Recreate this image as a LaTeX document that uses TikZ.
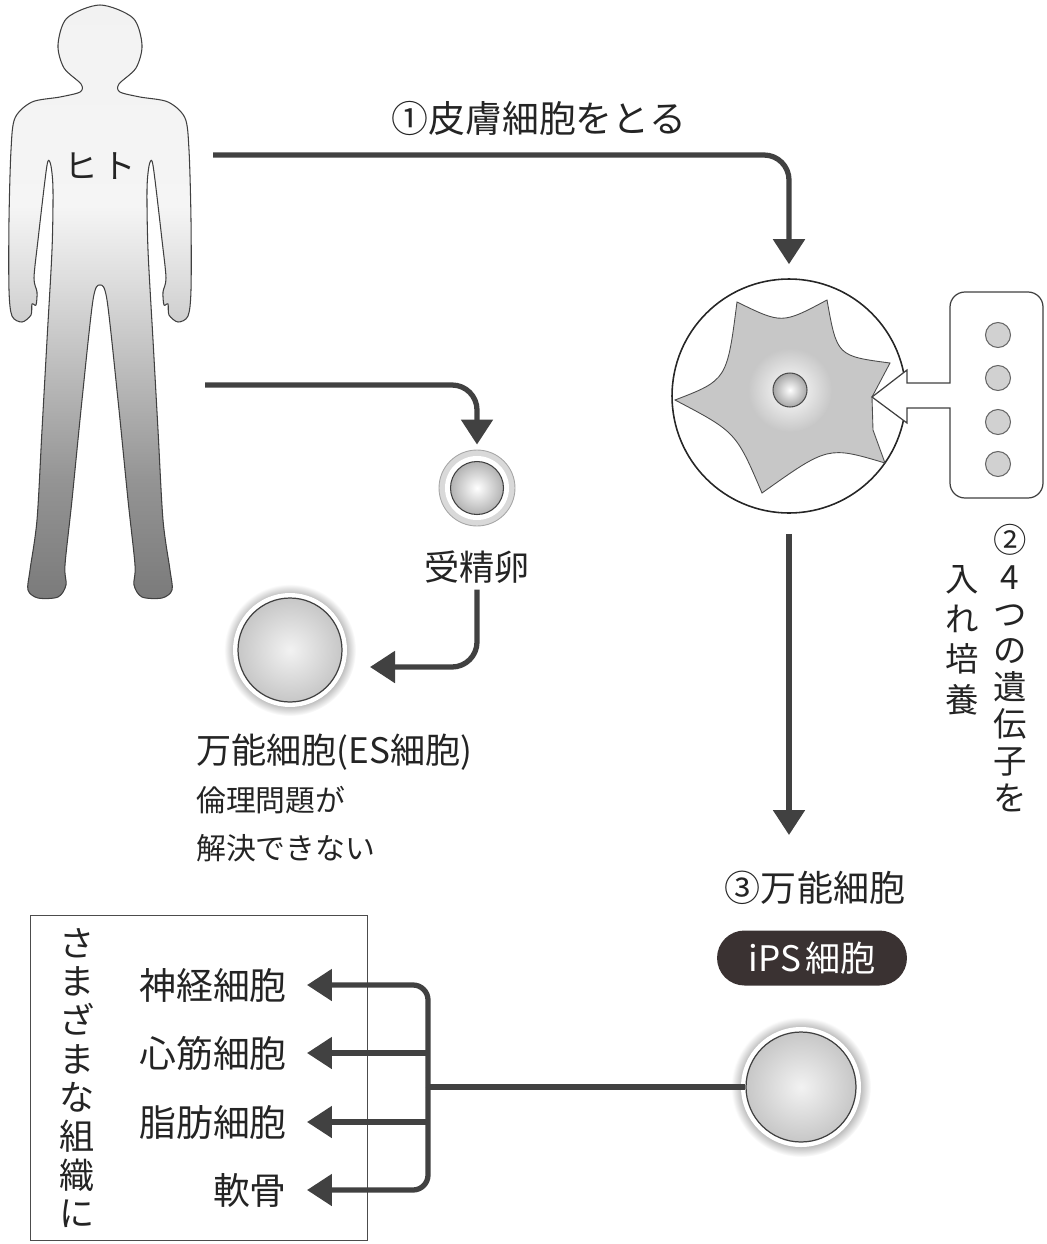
\documentclass[tikz,border=0pt]{standalone}
\usepackage{fontspec}
\setmainfont{Noto Sans CJK JP}
\usetikzlibrary{arrows.meta}
\definecolor{ink}{HTML}{414141}
\definecolor{pill}{HTML}{3A3232}
\definecolor{txt}{HTML}{242424}
\pgfdeclareverticalshading{bodyfade}{100bp}{color(0bp)=(black!52); color(25bp)=(black!52); color(35bp)=(black!42); color(45bp)=(black!25); color(52bp)=(black!13); color(58bp)=(black!4); color(75bp)=(black!5); color(100bp)=(black!5)}
\pgfdeclareradialshading{glow}{\pgfpoint{0bp}{0bp}}{color(0bp)=(black!35); color(20bp)=(black!35); color(25bp)=(white); color(50bp)=(white)}
\tikzset{
  flow/.style={draw=ink, line width=3pt, -{Triangle[width=0.62cm,length=0.5cm]}},
  link/.style={draw=ink, line width=3pt},
  cell/.style={circle, draw=black!75, line width=0.7pt, inner color=black!5, outer color=black!22},
  gene/.style={circle, draw=black!60, line width=0.6pt, fill=black!18, minimum size=0.5cm},
  big/.style={text=txt, font=\fontsize{21}{24}\selectfont},
  mid/.style={text=txt, font=\fontsize{19}{24}\selectfont},
}

\begin{document}
\begin{tikzpicture}[x=0.02cm, y=-0.02cm]
        % \draw [help lines, step=50] (0,0) grid (1047,1244);
        \useasboundingbox (0,0) rectangle (1047,1244);

        % the person
        \shadedraw [shading=bodyfade, draw=black!75, line width=0.6pt]
            plot [smooth cycle, tension=0.5] coordinates {
            (100,285) (93,300) (82,400) (72,500) (65,565) (66,585) (58,597) (38,598) (28,590) (30,570)
            (37,520) (42,430) (47,340) (52,250) (53,190) (51,166) (48,161) (45,180) (38,240) (34,278)
            (37,292) (36,305) (32,304) (31,315) (22,322) (12,316) (9,290) (9,220) (11,150) (15,118)
            (32,102) (60,97) (80,92) (81,84) (64,68) (58,45) (67,18) (100,5)
            (133,18) (142,45) (136,68) (119,84) (120,92) (140,97) (168,102) (185,118) (189,150) (191,220)
            (191,290) (188,316) (178,322) (169,315) (168,304) (164,305) (163,292) (166,278) (162,240) (155,180)
            (152,161) (149,166) (147,190) (148,250) (153,340) (158,430) (163,520) (170,570) (172,590) (162,598)
            (142,597) (134,585) (135,565) (128,500) (118,400) (107,300)};
        \path node (hito) [text=txt, font=\fontsize{19}{20}\selectfont] at (100,166) {ヒ\hspace{0.15em}ト};
        \coordinate (skin) at (213,155);
        \coordinate (womb) at (205,385);

        % skin cell with the four genes
        \path node (cell) [circle, draw=black!85, line width=0.9pt, minimum size=4.68cm] at (789,396) {};
        \filldraw [fill=black!22, draw=black!70, line width=0.5pt]
            (675,400) .. controls (727,380) .. (737,302) .. controls (782,324) .. (827,300)
            .. controls (837,356) .. (890,363) -- (872,397) -- (873,430) -- (885,463)
            .. controls (828,446) .. (762,493) .. controls (736,432) .. (675,400) -- cycle;
        \shade [inner color=white, outer color=black!22] (790,390) circle [radius=42];
        \path node (nucleus) [circle, draw=black!70, line width=0.6pt, inner color=white, outer color=black!35, minimum size=0.68cm] at (790,390) {};
        \filldraw [fill=white, draw=black!75, line width=0.7pt]
            (872,397) -- (907,370) -- (907,383) -- (950,383) -- (950,340)
            [rounded corners=0.3cm] -- (950,292) -- (1043,292) -- (1043,498) -- (950,498) -- (950,450)
            [sharp corners] -- (950,408) -- (907,408) -- (907,423) -- cycle;
        \foreach \y [count=\i] in {335,378,422,464}
            \path node (gene\i) [gene] at (998,\y) {};
        \path node (step1) [big] at (539,118) {①皮膚細胞をとる};
        \path node (step2) [align=center, text=txt, font=\fontsize{19}{21}\selectfont] at (1010,668) {②\\4\\つ\\の\\遺\\伝\\子\\を};
        \path node (culture) [align=center, text=txt, font=\fontsize{19}{23}\selectfont] at (962,640) {入\\れ\\培\\養};

        % fertilised egg and ES cell
        \path node (egg) [circle, draw=black!35, fill=black!15, line width=0.5pt, minimum size=1.52cm] at (477,488) {};
        \draw [fill=white, draw=none] (477,488) circle [radius=32];
        \path node (yolk) [circle, draw=black!75, line width=0.6pt, inner color=white, outer color=black!30, minimum size=1.06cm] at (477,488) {};
        \path node (eggtxt) [text=txt, font=\fontsize{20}{22}\selectfont] at (477,567) {受精卵};
        \coordinate (estip) at (370,667);

        \shade [shading=glow] (290,650) circle [radius=66];
        \draw [fill=white, draw=none] (290,650) circle [radius=57];
        \path node (es) [cell, minimum size=2.08cm] at (290,650) {};
        \path node (estitle) [anchor=west, text=txt, font=\fontsize{20}{24}\selectfont] at (190,752) {万能細胞(ES細胞)};
        \path node (esnote) [anchor=west, align=left, text=txt, font=\fontsize{17}{27.3}\selectfont] at (190,824) {倫理問題が\\解決できない};

        % iPS cell
        \path node (ips3) [text=txt, font=\fontsize{20.5}{24}\selectfont] at (815,888) {③万能細胞};
        \path node (ipstag) [fill=pill, text=white, rounded corners=0.55cm, minimum width=3.8cm, minimum height=1.1cm, font=\fontsize{20}{24}\selectfont] at (812,958) {iPS\hspace{0.12em}細胞};
        \shade [shading=glow] (801,1087) circle [radius=70];
        \draw [fill=white, draw=none] (801,1087) circle [radius=60];
        \path node (ips) [cell, minimum size=2.2cm] at (801,1087) {};

        % tissues
        \path node (tissues) [draw=black!70, line width=0.8pt, minimum width=6.74cm, minimum height=6.5cm, anchor=north west] at (30,915) {};
        \path node (various) [align=center, text=txt, font=\fontsize{20}{22}\selectfont] at (77,1078) {さ\\ま\\ざ\\ま\\な\\組\\織\\に};
        \path node (nerve) [big, anchor=east] at (293,985) {神経細胞};
        \path node (heart) [big, anchor=east] at (293,1053) {心筋細胞};
        \path node (fat) [big, anchor=east] at (293,1122) {脂肪細胞};
        \path node (bone) [big, anchor=east] at (293,1190) {軟骨};
        \coordinate (hub) at (428,1087);

        \draw [flow, rounded corners=0.5cm, shorten >=0.28cm] (skin) -| (cell.north);
        \draw [flow, rounded corners=0.5cm, shorten >=0.1cm] (womb) -| (egg.north);
        \draw [flow, rounded corners=0.5cm] (eggtxt.south) |- (estip);
        \draw [flow, shorten <=0.4cm, shorten >=0.6cm] (cell.south) -- (cell.south |- ips3.north);

        \draw [link] (ips.west) -- (hub);
        \draw [flow, rounded corners=0.3cm, shorten >=0.28cm] (hub) |- (nerve.east);
        \draw [flow, shorten >=0.28cm] (hub |- heart.east) -- (heart.east);
        \draw [flow, shorten >=0.28cm] (hub |- fat.east) -- (fat.east);
        \draw [flow, rounded corners=0.3cm, shorten >=0.28cm] (hub) |- (bone.east);

    \end{tikzpicture}
\end{document}
